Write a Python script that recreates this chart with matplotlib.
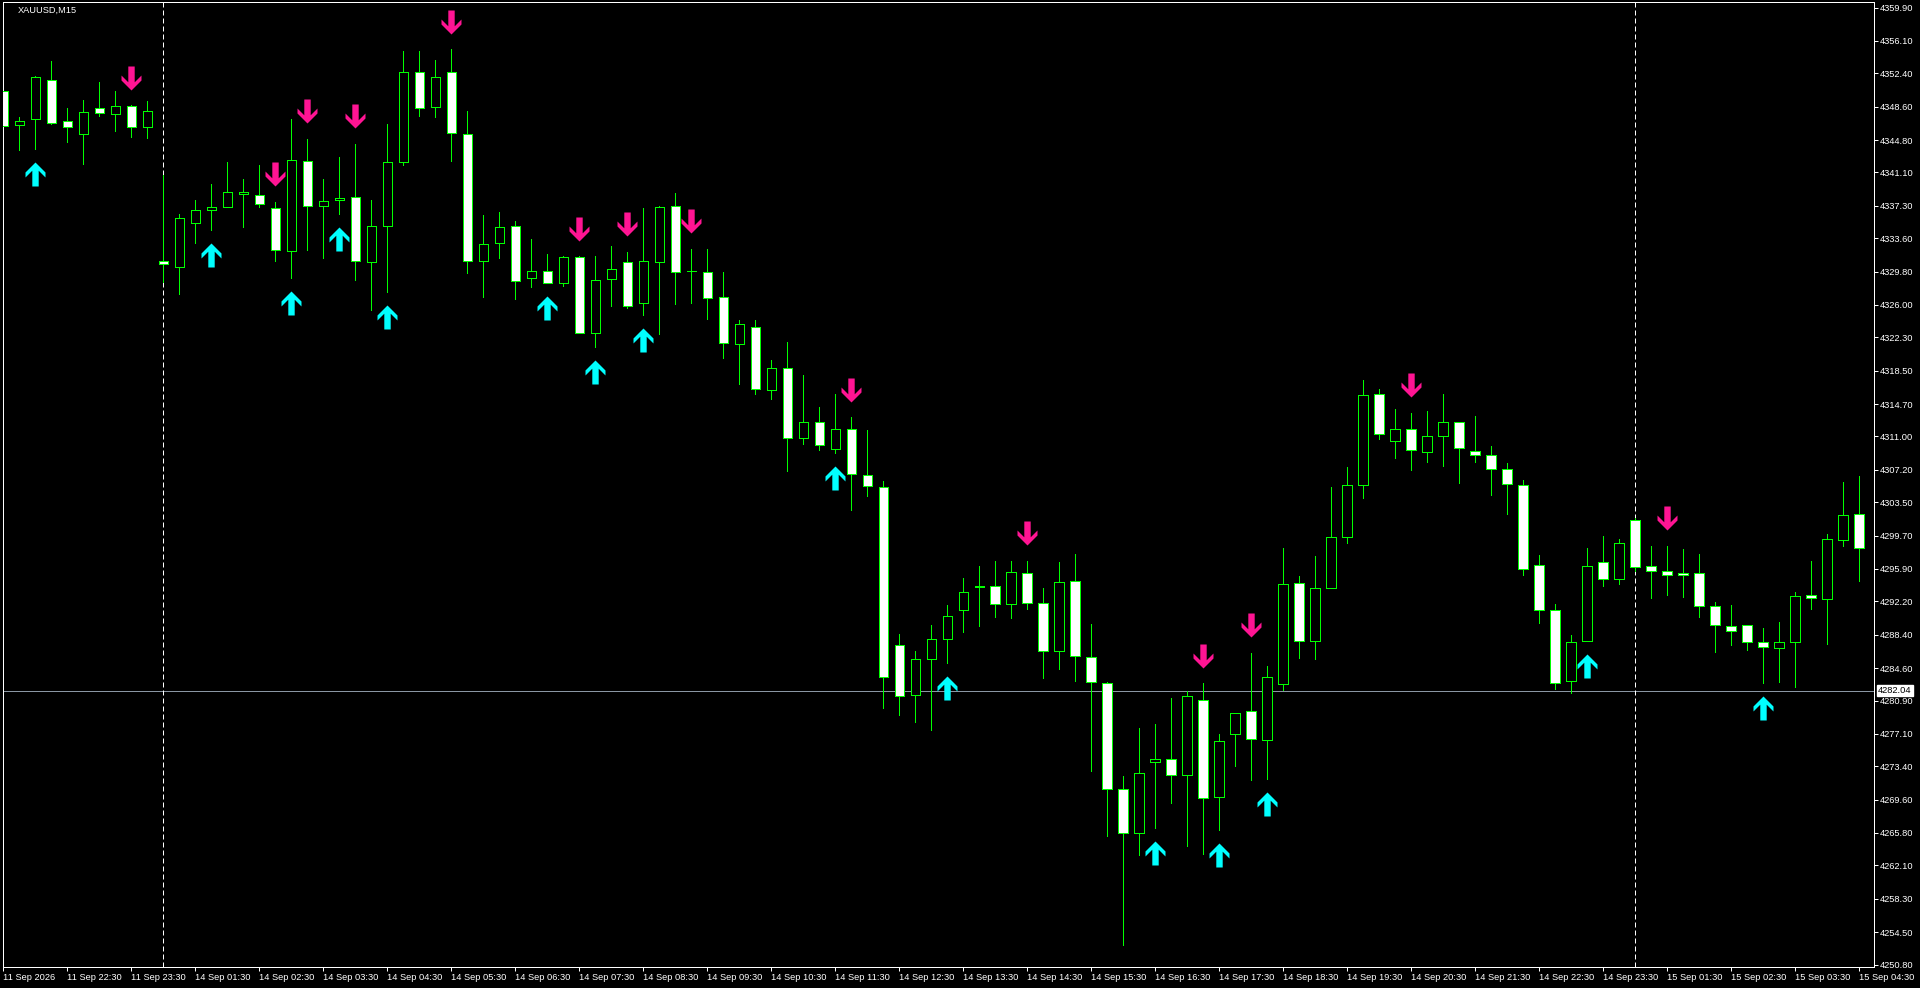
import numpy as np
import matplotlib
matplotlib.use('Agg')
import matplotlib.pyplot as plt
from matplotlib.path import Path
from matplotlib import transforms

# --- Data (XAUUSD M15) ---
symbol_title = 'XAUUSD,M15'

opens = [4350.39, 4346.47, 4347.16, 4351.60, 4346.93, 4345.52, 4348.41, 4347.73, 4348.64, 4346.25,
         4330.97, 4330.37, 4335.38, 4336.79, 4337.13, 4338.61, 4338.50, 4337.01, 4332.11, 4342.37,
         4337.24, 4337.93, 4338.27, 4330.86, 4335.04, 4342.33, 4352.55, 4348.60, 4352.55, 4345.45,
         4330.97, 4333.03, 4334.96, 4329.04, 4329.83, 4328.47, 4331.43, 4322.77, 4328.92, 4330.86,
         4326.19, 4330.86, 4337.24, 4329.87, 4329.72, 4326.87, 4321.51, 4323.45, 4316.27, 4318.77,
         4310.79, 4312.62, 4309.54, 4311.82, 4306.58, 4305.21, 4287.20, 4281.50, 4285.60, 4287.90,
         4291.18, 4293.88, 4294.00, 4291.87, 4295.40, 4291.98, 4286.51, 4294.49, 4285.83, 4282.86,
         4270.78, 4265.77, 4273.86, 4274.20, 4272.38, 4280.93, 4269.87, 4277.05, 4279.67, 4276.37,
         4282.75, 4294.26, 4287.65, 4293.69, 4299.51, 4305.43, 4315.81, 4310.45, 4311.82, 4309.20,
         4311.02, 4312.61, 4309.31, 4308.85, 4307.26, 4305.43, 4296.32, 4291.19, 4283.09, 4287.65,
         4296.66, 4294.72, 4301.44, 4296.20, 4295.63, 4295.40, 4295.40, 4291.64, 4289.36, 4289.48,
         4287.54, 4286.85, 4287.54, 4292.89, 4292.44, 4299.16, 4302.13]
highs = [4351.26, 4347.39, 4352.10, 4353.81, 4348.45, 4349.36, 4351.41, 4350.39, 4348.79, 4349.25,
         4340.81, 4336.33, 4337.96, 4339.79, 4342.26, 4340.36, 4341.95, 4337.74, 4347.20, 4344.92,
         4340.36, 4342.86, 4344.35, 4337.96, 4346.63, 4354.95, 4354.95, 4353.92, 4355.17, 4348.11,
         4336.25, 4336.60, 4335.53, 4333.52, 4331.81, 4331.54, 4331.54, 4331.54, 4332.68, 4332.04,
         4337.03, 4337.28, 4338.76, 4332.38, 4332.38, 4329.75, 4324.28, 4324.28, 4319.72, 4321.74,
         4317.98, 4314.33, 4315.81, 4313.19, 4311.71, 4305.89, 4288.50, 4286.50, 4289.50, 4291.80,
         4294.87, 4296.24, 4296.81, 4296.81, 4296.81, 4293.73, 4296.69, 4297.61, 4289.63, 4282.98,
         4272.26, 4277.73, 4278.19, 4281.15, 4281.95, 4282.86, 4277.05, 4279.44, 4286.32, 4284.84,
         4298.29, 4295.06, 4297.38, 4305.24, 4307.52, 4317.44, 4316.41, 4314.13, 4313.68, 4313.91,
         4315.84, 4312.61, 4313.34, 4309.92, 4307.98, 4306.04, 4297.49, 4291.87, 4288.34, 4298.25,
         4299.66, 4299.32, 4301.67, 4298.52, 4298.52, 4298.18, 4297.61, 4292.10, 4291.75, 4289.48,
         4289.13, 4289.82, 4293.24, 4296.81, 4299.89, 4305.81, 4306.50]
lows = [4345.18, 4343.66, 4343.81, 4346.66, 4344.61, 4342.11, 4347.58, 4345.87, 4345.18, 4345.07,
        4328.66, 4327.25, 4333.10, 4334.54, 4337.13, 4334.92, 4337.13, 4331.05, 4329.11, 4332.30,
        4331.39, 4336.41, 4328.88, 4325.46, 4327.48, 4341.99, 4347.54, 4347.42, 4342.45, 4329.68,
        4326.87, 4331.39, 4326.64, 4328.01, 4328.47, 4328.12, 4322.77, 4321.25, 4325.84, 4325.62,
        4324.80, 4322.72, 4326.14, 4326.26, 4324.43, 4319.99, 4317.03, 4315.81, 4315.32, 4307.11,
        4310.19, 4309.50, 4309.16, 4302.66, 4304.26, 4280.05, 4279.20, 4278.50, 4277.50, 4285.20,
        4288.75, 4289.44, 4290.46, 4290.35, 4291.37, 4283.51, 4284.53, 4283.17, 4272.91, 4265.50,
        4253.08, 4263.33, 4266.41, 4269.26, 4264.36, 4263.45, 4266.18, 4273.48, 4271.88, 4272.00,
        4282.07, 4285.79, 4285.68, 4293.69, 4298.90, 4304.03, 4310.72, 4308.59, 4307.22, 4308.13,
        4307.68, 4305.74, 4308.13, 4304.37, 4302.20, 4295.25, 4289.78, 4282.26, 4281.80, 4287.65,
        4293.92, 4294.22, 4295.71, 4292.63, 4292.97, 4292.74, 4290.46, 4286.47, 4287.27, 4286.70,
        4282.94, 4283.05, 4282.48, 4291.37, 4287.39, 4298.56, 4294.57]
closes = [4346.44, 4346.93, 4351.95, 4346.78, 4346.25, 4347.96, 4347.84, 4348.64, 4346.25, 4348.07,
          4330.63, 4335.87, 4336.79, 4337.13, 4338.84, 4338.84, 4337.47, 4332.23, 4342.49, 4337.24,
          4337.81, 4338.23, 4330.97, 4334.96, 4342.26, 4352.55, 4348.49, 4351.95, 4345.56, 4330.97,
          4332.91, 4334.85, 4328.69, 4329.83, 4328.47, 4331.43, 4322.77, 4328.81, 4330.06, 4325.84,
          4330.97, 4337.12, 4329.72, 4329.87, 4326.75, 4321.70, 4323.79, 4316.38, 4318.77, 4310.79,
          4312.62, 4310.00, 4311.82, 4306.69, 4305.32, 4283.58, 4281.40, 4285.60, 4287.90, 4290.50,
          4293.24, 4293.96, 4291.87, 4295.52, 4291.98, 4286.51, 4294.38, 4285.94, 4282.98, 4270.78,
          4265.77, 4272.61, 4274.20, 4272.38, 4281.38, 4269.76, 4276.25, 4279.44, 4276.48, 4283.55,
          4294.15, 4287.65, 4293.69, 4299.51, 4305.43, 4315.69, 4311.25, 4311.82, 4309.42, 4311.02,
          4312.61, 4309.65, 4308.85, 4307.26, 4305.55, 4295.86, 4291.19, 4282.87, 4287.54, 4296.20,
          4294.72, 4298.82, 4296.16, 4295.63, 4295.17, 4295.17, 4291.64, 4289.48, 4288.87, 4287.61,
          4286.97, 4287.54, 4292.78, 4292.56, 4299.28, 4302.01, 4298.25]

# indicator signals (bar indexes)
buy_bars = [2, 13, 18, 21, 24, 34, 37, 40, 52, 59, 72, 76, 79, 99, 110]
sell_bars = [8, 17, 19, 22, 28, 36, 39, 43, 53, 64, 75, 78, 88, 104]

# first bar of each new trading day (period separators)
day_start_bars = [10, 102]

price_levels = [4359.90, 4356.10, 4352.40, 4348.60, 4344.80, 4341.10, 4337.30, 4333.60, 4329.80,
                4326.00, 4322.30, 4318.50, 4314.70, 4311.00, 4307.20, 4303.50, 4299.70, 4295.90,
                4292.20, 4288.40, 4284.60, 4280.90, 4277.10, 4273.40, 4269.60, 4265.80, 4262.10,
                4258.30, 4254.50, 4250.80]
time_labels = ['11 Sep 2026', '11 Sep 22:30', '11 Sep 23:30'] + \
              ['14 Sep %02d:30' % h for h in range(1, 24)] + \
              ['15 Sep %02d:30' % h for h in range(1, 5)]
hline_price = 4282.04

# --- Style ---
BG = 'black'
GREEN = '#00FF00'
PX = 0.72  # one pixel in points at dpi=100
FONT = 'Liberation Sans'
FS = 6.7

W, H = 1920, 988
fig = plt.figure(figsize=(W / 100, H / 100), dpi=100, facecolor=BG)
ax = fig.add_axes([2.7 / W, 21 / H, (1874 - 2.7) / W, (967 - 2.3) / H])
ax.set_facecolor(BG)

x = np.arange(len(opens))
o = np.array(opens)
c = np.array(closes)
hi = np.array(highs)
lo = np.array(lows)

# wicks, then bodies on top
ax.vlines(x, lo, hi, color=GREEN, lw=PX, zorder=2, antialiased=False)
fills = np.where(c < o, 'white', 'black')
ax.bar(x, np.abs(c - o), bottom=np.minimum(o, c), width=0.58, color=fills,
       edgecolor=GREEN, linewidth=PX, zorder=3, antialiased=False)

# horizontal price line + separators
ax.axhline(hline_price, color='#8a96a3', lw=PX, zorder=1)
for b in day_start_bars:
    ax.axvline(b, color='white', lw=PX, linestyle=(0, (5, 3)), zorder=1)

# signal arrows (thick wingdings-like arrows)
up_verts = [(0, 12), (10, 2), (10, -3), (3.2, 3.8), (3.2, -12), (-3.2, -12),
            (-3.2, 3.8), (-10, -3), (-10, 2), (0, 12)]
up_path = Path(up_verts, closed=True)
down_path = Path([(vx, -vy) for vx, vy in up_verts], closed=True)
arrow_size = 24 * PX

below = transforms.offset_copy(ax.transData, fig=fig, x=0, y=-25 * PX, units='points')
above = transforms.offset_copy(ax.transData, fig=fig, x=0, y=27.5 * PX, units='points')
ax.plot(buy_bars, lo[buy_bars], linestyle='none', marker=up_path, markersize=arrow_size,
        color='#00FFFF', markeredgewidth=0, transform=below, zorder=5, clip_on=False)
ax.plot(sell_bars, hi[sell_bars], linestyle='none', marker=down_path, markersize=arrow_size,
        color='#FF1493', markeredgewidth=0, transform=above, zorder=5, clip_on=False)

ax.set_xlim(-0.04, 116.94)
ax.set_ylim(4250.52, 4360.50)

# axes frame and ticks
for s in ax.spines.values():
    s.set_color('white')
    s.set_linewidth(PX)

ax.yaxis.tick_right()
ax.set_yticks(price_levels)
ax.set_yticklabels(['%.2f' % p for p in price_levels])
ax.set_xticks(np.arange(0, len(opens), 4))
ax.set_xticklabels(time_labels, ha='left')
ax.tick_params(axis='both', colors='white', length=4 * PX, width=PX, direction='out',
               labelsize=FS, pad=1.5)
for lab in ax.get_xticklabels() + ax.get_yticklabels():
    lab.set_family(FONT)

# current price box on the scale
ax.annotate('%.2f' % hline_price, xy=(1, hline_price), xycoords=('axes fraction', 'data'),
            xytext=(4 * PX, 0), textcoords='offset points', ha='left', va='center',
            fontsize=FS, family=FONT, color='black', annotation_clip=False, zorder=10,
            bbox=dict(boxstyle='square,pad=0.15', fc='white', ec='white'))

fig.text(18 / W, 1 - 10.5 / H, symbol_title, color='white', fontsize=FS, family=FONT,
         va='center', ha='left')

fig.savefig('out.png', dpi=100, facecolor=BG)
